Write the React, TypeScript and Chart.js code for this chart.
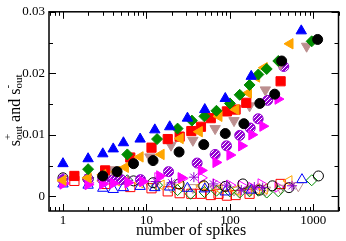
import React, { useEffect, useRef } from 'react';
import { Chart, registerables } from 'chart.js';

Chart.register(...registerables);

const xTickLabels = [1, 10, 100, 1000];
const yTickLabels = [0, 0.01, 0.02, 0.03];

// s_out^+ (filled symbols)
const blueUpX = [1, 2, 3, 4, 5.3, 8.4, 12.6, 19, 31, 50, 88, 180, 716];
const blueUpY = [0.0053, 0.0061, 0.0069, 0.0077, 0.0087, 0.0093, 0.0108, 0.0113, 0.0127, 0.0141, 0.0159, 0.0195, 0.0269];
const greenDiaX = [2, 5.9, 13.4, 23.6, 35, 49.5, 69, 100, 131, 172, 219, 276, 380, 955];
const greenDiaY = [0.0044, 0.0068, 0.0093, 0.011, 0.0123, 0.013, 0.0139, 0.0151, 0.0165, 0.0181, 0.0198, 0.0207, 0.022, 0.0252];
const orangeLeftX = [1, 2, 3, 4.4, 5.6, 8.4, 15, 25.4, 43, 74, 118, 167, 209, 258, 525];
const orangeLeftY = [0.0026, 0.003, 0.0035, 0.004, 0.0047, 0.0064, 0.0068, 0.0094, 0.0105, 0.013, 0.0141, 0.0168, 0.0194, 0.0209, 0.0248];
const redSqX = [1.37, 3.2, 6.4, 11.5, 18, 25, 34.5, 45, 59, 92, 117, 157, 405];
const redSqY = [0.0033, 0.0042, 0.0063, 0.0079, 0.0093, 0.0097, 0.0106, 0.0113, 0.0127, 0.0138, 0.0141, 0.0152, 0.0187];
const grayDownX = [3.9, 11, 19.7, 36, 66.5, 112, 172, 266, 405, 830];
const grayDownY = [0.0043, 0.0064, 0.0083, 0.0091, 0.011, 0.0123, 0.0147, 0.0173, 0.0215, 0.0244];
const blackCircX = [3, 4.45, 7, 12, 24.6, 48.6, 88, 147, 228, 344, 417, 1125];
const blackCircY = [0.0033, 0.004, 0.0053, 0.0058, 0.0072, 0.0084, 0.0102, 0.0118, 0.0151, 0.0166, 0.022, 0.0255];
const magentaRightX = [1, 2, 3, 4, 6, 9, 14.4, 26, 45.5, 68, 100, 138, 183, 248, 377];
const magentaRightY = [0.002, 0.0019, 0.002, 0.0021, 0.0022, 0.0024, 0.0033, 0.003, 0.0042, 0.0055, 0.0067, 0.0082, 0.01, 0.0114, 0.0158];
const purpleHatchX = [1, 2, 3, 4, 5, 8.5, 18.4, 40.5, 66.5, 91, 131, 175, 218, 283, 442];
const purpleHatchY = [0.0027, 0.0028, 0.0027, 0.0027, 0.0027, 0.0027, 0.004, 0.0054, 0.0068, 0.0082, 0.0099, 0.0111, 0.0126, 0.0156, 0.0211];

// s_out^- (open symbols)
const openBlueX = [1, 2, 3, 4, 5.3, 8.4, 12.6, 19, 31, 50, 88, 180, 730];
const openBlueY = [0.002, 0.0018, 0.0013, 0.0011, 0.0014, 0.0016, 0.0014, 0.0015, 0.0013, 0.0012, 0.0007, 0.001, 0.0027];
const openRedX = [1.37, 3.2, 6.4, 11.5, 18, 25, 34.5, 45, 59, 73, 92, 117, 172, 405];
const openRedY = [0.0025, 0.002, 0.0015, 0.0013, 0.0008, 0.0005, 0.0004, 0.0004, 0.0002, 0.0004, 0.0001, 0.0002, 0.0004, 0.002];
const openGreenX = [2, 5.9, 13.4, 23.6, 33.8, 49.5, 69, 100, 131, 172, 219, 276, 380, 955];
const openGreenY = [0.003, 0.0026, 0.0018, 0.001, 0.0004, 0.0007, 0.0009, 0.0008, 0.0006, 0.0008, 0.0009, 0.0006, 0.0008, 0.0026];
const openOrangeX = [1, 2, 3, 4.4, 5.6, 8.4, 15, 25.4, 46, 74, 118, 167, 209, 258, 510];
const openOrangeY = [0.0025, 0.0027, 0.0025, 0.0025, 0.0024, 0.0022, 0.0018, 0.0016, 0.0017, 0.0012, 0.001, 0.001, 0.0012, 0.0012, 0.0025];
const openGrayX = [3.9, 11, 19.7, 36, 66.5, 112, 172, 266, 405, 660];
const openGrayY = [0.0025, 0.0019, 0.0015, 0.0014, 0.0012, 0.001, 0.0009, 0.001, 0.0013, 0.0017];
const openMagentaX = [1, 2, 3, 13.7, 26.8, 45.5, 68, 100, 138, 183, 236, 377];
const openMagentaY = [0.0022, 0.0022, 0.0024, 0.003, 0.0029, 0.003, 0.002, 0.0018, 0.0017, 0.0014, 0.002, 0.0015];
const purpleStarX = [1, 2, 3, 4, 6, 8.5, 13, 20, 37, 63.5, 91, 137, 196, 247, 555];
const purpleStarY = [0.003, 0.003, 0.0032, 0.0028, 0.0026, 0.0027, 0.0024, 0.0022, 0.0031, 0.002, 0.0018, 0.001, 0.0015, 0.0014, 0.0017];
const openBlackX = [1, 2, 3, 4.45, 7, 12, 24.6, 48.6, 88, 143, 228, 323, 510, 1150];
const openBlackY = [0.003, 0.0028, 0.0032, 0.0028, 0.0025, 0.0022, 0.002, 0.0017, 0.0016, 0.002, 0.001, 0.0017, 0.0014, 0.0033];

const BLUE = '#0000ff';
const RED = '#ff0000';
const GREEN = '#008b00';
const ORANGE = '#ffa500';
const GRAY = '#bc8f8f';
const BLACK = '#000000';
const MAGENTA = '#ff00ff';
const PURPLE = '#9400d3';

const SERIF = '"Liberation Serif", "Times New Roman", serif';

function hatchPattern(): CanvasPattern | string {
  const c = document.createElement('canvas');
  c.width = 4;
  c.height = 4;
  const g = c.getContext('2d');
  if (!g) return PURPLE;
  g.fillStyle = PURPLE;
  g.fillRect(0, 0, 4, 4);
  g.strokeStyle = '#ffffff';
  g.lineWidth = 1;
  g.beginPath();
  g.moveTo(0, 4);
  g.lineTo(4, 0);
  g.moveTo(-1, 1);
  g.lineTo(1, -1);
  g.moveTo(3, 5);
  g.lineTo(5, 3);
  g.stroke();
  return g.createPattern(c, 'repeat') || PURPLE;
}

function series(xs: number[], ys: number[], style: string, color: string, filled: boolean, radius: number, rotation = 0, fill?: any) {
  return {
    data: xs.map((x, i) => ({ x, y: ys[i] })),
    pointStyle: style,
    pointRadius: radius,
    pointHoverRadius: radius,
    pointRotation: rotation,
    borderColor: color,
    backgroundColor: filled ? (fill || color) : 'rgba(0,0,0,0)',
    pointBorderWidth: 1,
    borderWidth: 1,
    showLine: false,
  };
}

const framePlugin = {
  id: 'frame',
  afterDatasetsDraw(chart: any) {
    const { ctx, chartArea: a, scales } = chart;
    const x = scales.x;
    const y = scales.y;
    ctx.save();
    ctx.strokeStyle = '#000';
    ctx.lineWidth = 1;
    const line = (x1: number, y1: number, x2: number, y2: number) => {
      ctx.beginPath();
      ctx.moveTo(x1, y1);
      ctx.lineTo(x2, y2);
      ctx.stroke();
    };
    for (let d = -1; d <= 3; d++) {
      for (let m = 1; m <= 9; m++) {
        const v = m * Math.pow(10, d);
        if (v < x.min || v > x.max) continue;
        const px = Math.round(x.getPixelForValue(v)) + 0.5;
        const len = m === 1 ? 7 : 4;
        line(px, a.bottom, px, a.bottom - len);
        line(px, a.top, px, a.top + len);
      }
    }
    for (let k = 0; k <= 6; k++) {
      const v = k * 0.005;
      if (v < y.min || v > y.max) continue;
      const py = Math.round(y.getPixelForValue(v)) + 0.5;
      const len = k % 2 === 0 ? 7 : 4;
      line(a.left, py, a.left + len, py);
      line(a.right, py, a.right - len, py);
    }
    ctx.lineWidth = 1.5;
    ctx.strokeRect(a.left, a.top, a.right - a.left, a.bottom - a.top);
    ctx.restore();
  },
  afterDraw(chart: any) {
    const { ctx, chartArea: a } = chart;
    ctx.save();
    ctx.fillStyle = '#000';
    ctx.textBaseline = 'alphabetic';
    // x title
    ctx.font = `16px ${SERIF}`;
    ctx.textAlign = 'center';
    ctx.fillText('number of spikes', 191, 235);
    // y title with sub/superscripts
    const big = `16px ${SERIF}`;
    const small = `11px ${SERIF}`;
    const parts: Array<{ main?: string; sup?: string; sub?: string }> = [
      { main: 's' },
      { sup: '+', sub: 'out' },
      { main: ' and s' },
      { sup: '-', sub: 'out' },
    ];
    const widthOf = (p: any) => {
      if (p.main) {
        ctx.font = big;
        return ctx.measureText(p.main).width;
      }
      ctx.font = small;
      return Math.max(ctx.measureText(p.sup).width, ctx.measureText(p.sub).width);
    };
    const total = parts.reduce((s, p) => s + widthOf(p), 0);
    ctx.translate(20, (a.top + a.bottom) / 2 - 1);
    ctx.rotate(-Math.PI / 2);
    ctx.textAlign = 'left';
    let cx = -total / 2;
    for (const p of parts) {
      const w = widthOf(p);
      if (p.main) {
        ctx.font = big;
        ctx.fillText(p.main, cx, 0);
      } else {
        ctx.font = small;
        ctx.fillText(p.sup as string, cx, -9);
        ctx.fillText(p.sub as string, cx, 2);
      }
      cx += w;
    }
    ctx.restore();
  },
};

export default function App() {
  const ref = useRef<HTMLCanvasElement>(null);
  useEffect(() => {
    document.body.style.margin = '0';
    const hatch = hatchPattern();
    const datasets: any[] = [
      series(blackCircX, blackCircY, 'circle', BLACK, true, 5),
      series(blueUpX, blueUpY, 'triangle', BLUE, true, 6),
      series(greenDiaX, greenDiaY, 'rectRot', GREEN, true, 5.5),
      series(orangeLeftX, orangeLeftY, 'triangle', ORANGE, true, 6, -90),
      series(redSqX, redSqY, 'rect', RED, true, 6.5),
      series(grayDownX, grayDownY, 'triangle', GRAY, true, 6, 180),
      series(magentaRightX, magentaRightY, 'triangle', MAGENTA, true, 6, 90),
      series(purpleHatchX, purpleHatchY, 'circle', PURPLE, true, 5, 0, hatch),
      series(purpleStarX, purpleStarY, 'star', PURPLE, false, 5),
      series(openBlackX, openBlackY, 'circle', BLACK, false, 5),
      series(openBlueX, openBlueY, 'triangle', BLUE, false, 6),
      series(openGreenX, openGreenY, 'rectRot', GREEN, false, 5.5),
      series(openOrangeX, openOrangeY, 'triangle', ORANGE, false, 6, -90),
      series(openRedX, openRedY, 'rect', RED, false, 6.5),
      series(openGrayX, openGrayY, 'triangle', GRAY, false, 6, 180),
      series(openMagentaX, openMagentaY, 'triangle', MAGENTA, false, 6, 90),
    ];
    const chart = new Chart(ref.current as HTMLCanvasElement, {
      type: 'scatter',
      data: { datasets },
      options: {
        animation: false,
        responsive: true,
        maintainAspectRatio: false,
        layout: { padding: { left: 0, right: 2, top: 5, bottom: 0 } },
        plugins: { legend: { display: false }, tooltip: { enabled: false } },
        events: [],
        scales: {
          x: {
            type: 'logarithmic',
            min: 0.68,
            max: 2000,
            grid: { display: false, drawTicks: false },
            border: { display: false },
            afterBuildTicks: (s: any) => {
              s.ticks = xTickLabels.map((v) => ({ value: v }));
            },
            afterFit: (s: any) => {
              s.height = 30;
            },
            ticks: {
              padding: 2,
              autoSkip: false,
              maxRotation: 0,
              color: '#000',
              font: { family: SERIF, size: 13 },
              callback: (v: any) => String(v),
            },
          },
          y: {
            type: 'linear',
            min: -0.0024,
            max: 0.03,
            grid: { display: false, drawTicks: false },
            border: { display: false },
            afterBuildTicks: (s: any) => {
              s.ticks = yTickLabels.map((v) => ({ value: v }));
            },
            afterFit: (s: any) => {
              s.width = 49;
            },
            ticks: {
              padding: 4,
              color: '#000',
              font: { family: SERIF, size: 13 },
              callback: (v: any) => String(v),
            },
          },
        },
      } as any,
      plugins: [framePlugin],
    });
    return () => chart.destroy();
  }, []);
  return (
    <div style={{ width: 346, height: 241, position: 'relative' }}>
      <canvas ref={ref} />
    </div>
  );
}
